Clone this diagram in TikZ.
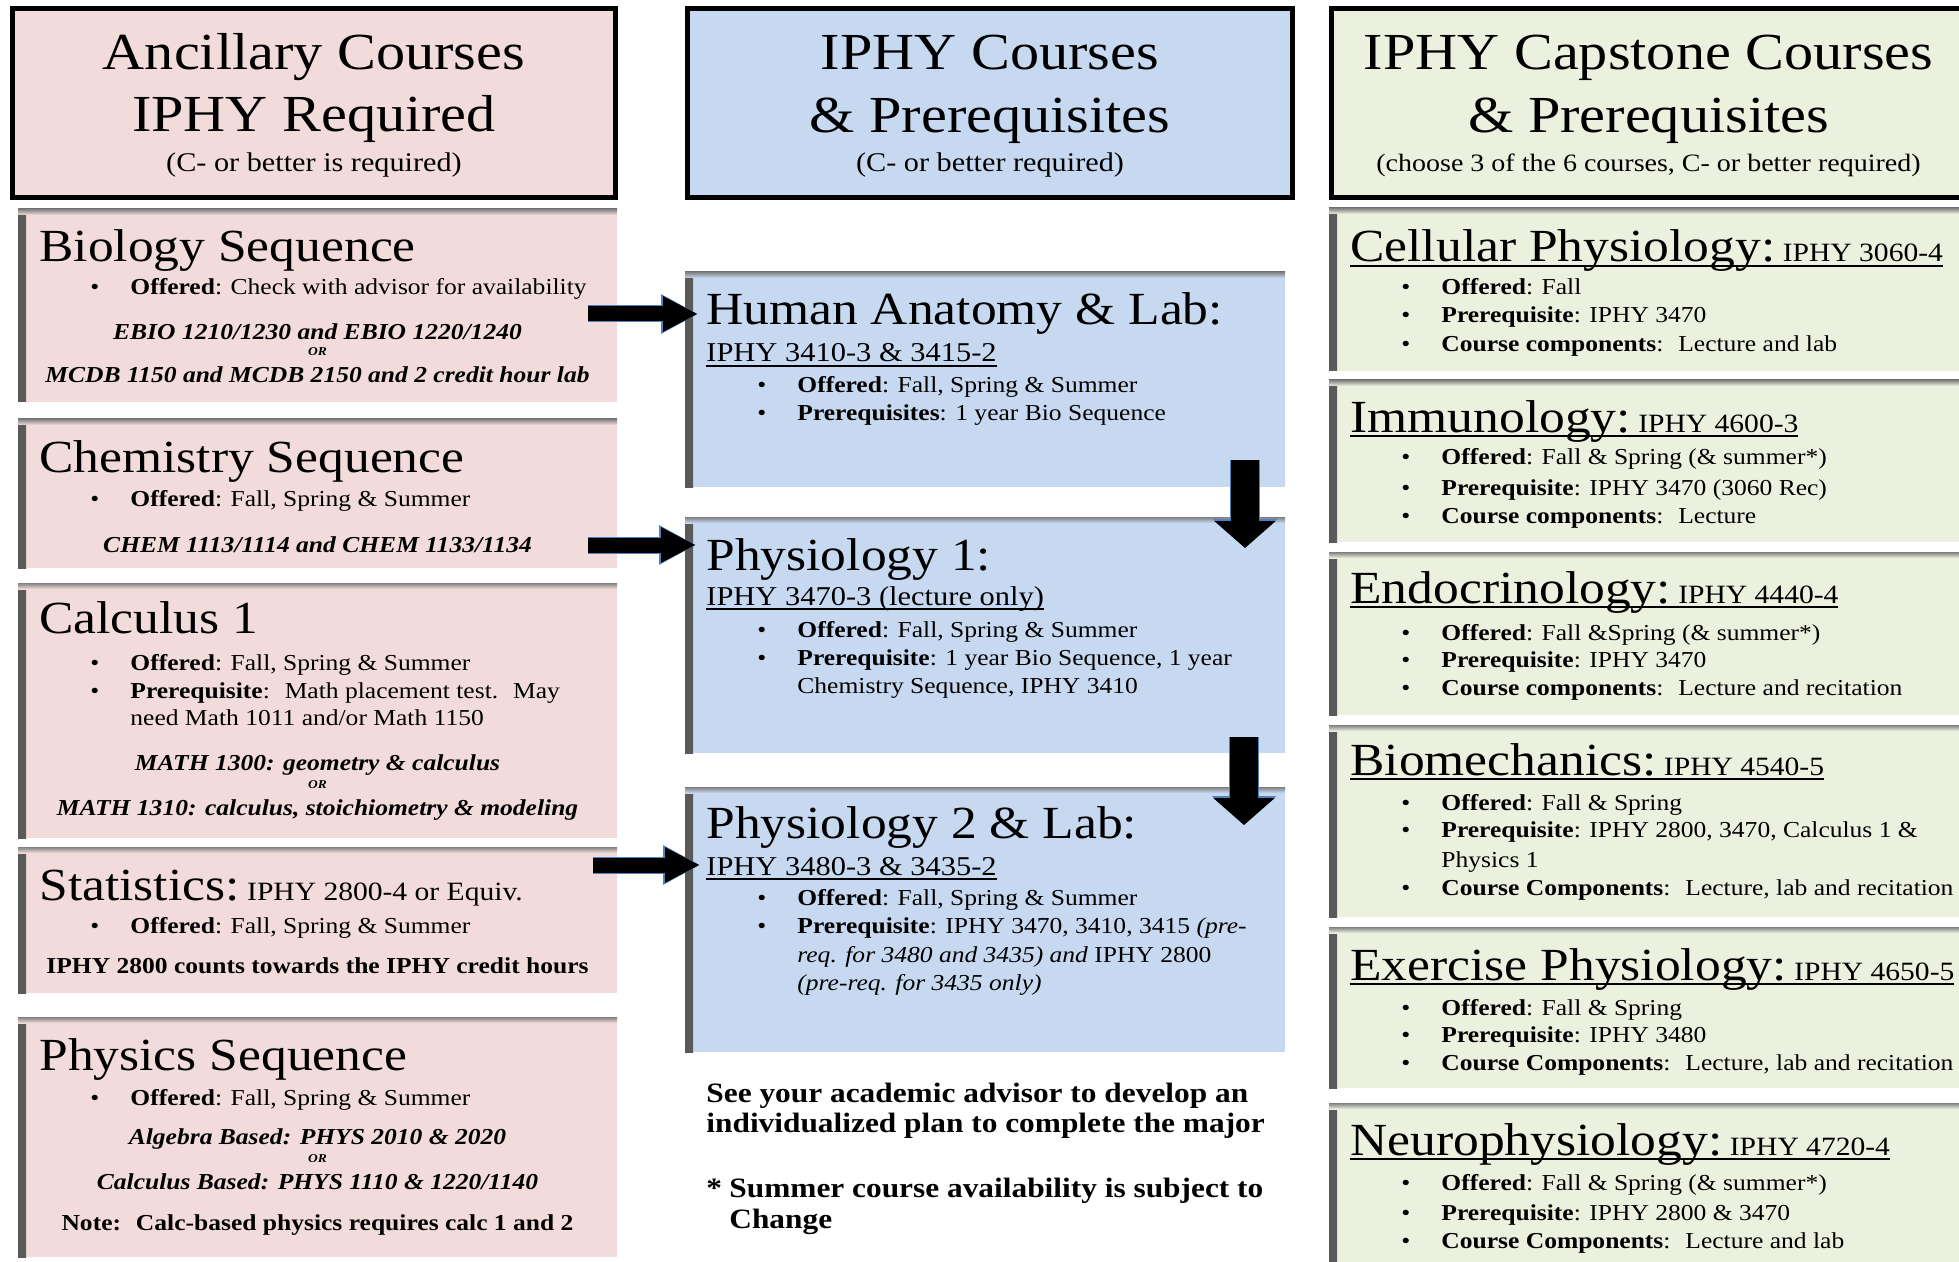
\documentclass[tikz,border=0pt]{standalone}
\usepackage{fontspec}
\setmainfont{Liberation Serif}[FakeStretch=1.12]
\usetikzlibrary{arrows.meta,calc}

\definecolor{ancpink}{RGB}{242,220,219}
\definecolor{iphyblue}{RGB}{198,217,241}
\definecolor{capgreen}{RGB}{235,241,222}
\definecolor{arrowblue}{RGB}{79,129,189}

% underline sitting just under the baseline
\newcommand\crsul[1]{\setbox0\hbox{#1}\rlap{\rule[-2.6pt]{\wd0}{1pt}}\box0}
\newcommand\crscode{\fontsize{13.2}{16}\selectfont}

\tikzset{
  header/.style={draw=black, line width=2.5pt, fill=#1, anchor=north west,
                 inner sep=0pt, outer sep=0pt},
  course/.style={fill=#1, anchor=north west, inner sep=0pt, outer sep=0pt,
                 path picture={
                   \shade[left color=black!65, right color=#1]
                     (path picture bounding box.north west) rectangle
                     ([xshift=4pt]path picture bounding box.south west);
                   \shade[top color=black!50, bottom color=#1]
                     (path picture bounding box.north west) rectangle
                     ([yshift=-3pt]path picture bounding box.north east);}},
  htitle/.style={anchor=base, inner sep=0pt, font=\fontsize{26}{31}\selectfont},
  hsub/.style={anchor=base, inner sep=0pt, font=\fontsize{13.5}{16}\selectfont},
  ttl/.style={anchor=base west, xshift=10.5pt, inner sep=0pt,
              font=\fontsize{23}{28}\selectfont},
  sub/.style={anchor=base west, xshift=10.5pt, inner sep=0pt,
              font=\fontsize{13.6}{16}\selectfont},
  bul/.style={anchor=base west, xshift=36pt, inner sep=0pt,
              font=\fontsize{11.4}{14}\selectfont,
              execute at begin node={\makebox[20pt][l]{\textbullet}}},
  cnt/.style={anchor=base west, xshift=56pt, inner sep=0pt,
              font=\fontsize{11.4}{14}\selectfont},
  ctr/.style={anchor=base, xshift=149.75pt, inner sep=0pt,
              font=\fontsize{11.4}{14}\selectfont\bfseries\itshape},
  orr/.style={anchor=base, xshift=149.75pt, inner sep=0pt,
              font=\fontsize{6}{7}\selectfont\bfseries\itshape},
  note/.style={anchor=base west, inner sep=0pt,
               font=\fontsize{14}{15}\selectfont\bfseries},
  harrow/.style={line width=7.5pt, -{Triangle[length=17.5pt,width=16.5pt]},
                 preaction={draw=arrowblue, line width=8.5pt,
                            -{Triangle[length=18.5pt,width=18.5pt]}}},
  varrow/.style={line width=14pt, -{Triangle[length=13.5pt,width=30pt]},
                 preaction={draw=arrowblue, line width=15pt,
                            -{Triangle[length=14.5pt,width=31.5pt]}}}
}

\begin{document}
\begin{tikzpicture}[x=0.5pt, y=-0.5pt]
\fill[white] (0,0) rectangle (1959,1262);
\useasboundingbox (0,0) rectangle (1959,1262);

% column headers
\node[header=ancpink, minimum width=301.5pt, minimum height=94.5pt] (hanc) at (12.5,8.5) {};
\node[header=iphyblue, minimum width=302.5pt, minimum height=94.5pt] (hiphy) at (687.5,8.5) {};
\node[header=capgreen, minimum width=317pt, minimum height=94.5pt] (hcap) at (1331.5,8.5) {};

\node[htitle] (hanc-1) at ($(hanc.north)+(0,61.5)$) {Ancillary Courses};
\node[htitle] (hanc-2) at ($(hanc.north)+(0,123.5)$) {IPHY Required};
\node[hsub] (hanc-3) at ($(hanc.north)+(0,163.5)$) {(C- or better is required)};
\node[htitle] (hiphy-1) at ($(hiphy.north)+(0,61.5)$) {IPHY Courses};
\node[htitle] (hiphy-2) at ($(hiphy.north)+(0,124.5)$) {\& Prerequisites};
\node[hsub] (hiphy-3) at ($(hiphy.north)+(0,163.5)$) {(C- or better required)};
\node[htitle] (hcap-1) at ($(hcap.north)+(0,61.5)$) {IPHY Capstone Courses};
\node[htitle] (hcap-2) at ($(hcap.north)+(0,124.5)$) {\& Prerequisites};
\node[hsub, font=\fontsize{12.5}{15}\selectfont] (hcap-3) at ($(hcap.north)+(0,163.5)$)
  {(choose 3 of the 6 courses, C- or better required)};

% ancillary boxes
\node[course=ancpink, minimum width=299.5pt, minimum height=96.5pt] (bio) at (18,209) {};
\node[course=ancpink, minimum width=299.5pt, minimum height=74.5pt] (chem) at (18,419) {};
\node[course=ancpink, minimum width=299.5pt, minimum height=127.5pt] (calc) at (18,583) {};
\node[course=ancpink, minimum width=299.5pt, minimum height=73pt] (stat) at (18,847) {};
\node[course=ancpink, minimum width=299.5pt, minimum height=120pt] (phys) at (18,1017) {};

% IPHY boxes
\node[course=iphyblue, minimum width=300pt, minimum height=107.5pt] (anat) at (685,272) {};
\node[course=iphyblue, minimum width=300pt, minimum height=118pt] (phyone) at (685,517) {};
\node[course=iphyblue, minimum width=300pt, minimum height=132.5pt] (phytwo) at (685,787) {};

% capstone boxes
\node[course=capgreen, minimum width=325pt, minimum height=81.5pt] (cell) at (1329,208) {};
\node[course=capgreen, minimum width=325pt, minimum height=81pt] (immu) at (1329,380) {};
\node[course=capgreen, minimum width=325pt, minimum height=81.5pt] (endo) at (1329,552) {};
\node[course=capgreen, minimum width=325pt, minimum height=96pt] (biomech) at (1329,725) {};
\node[course=capgreen, minimum width=325pt, minimum height=80.5pt] (exer) at (1329,927) {};
\node[course=capgreen, minimum width=325pt, minimum height=90pt] (neuro) at (1329,1103) {};

% arrows
\draw[harrow] ($(bio.north east)+(-29,105)$) -- ($(anat.north west)+(13,42)$);
\draw[harrow] ($(chem.north east)+(-29,126)$) -- ($(phyone.north west)+(11,28)$);
\draw[harrow] ($(stat.north east)+(-24,18)$) -- ($(phytwo.north west)+(15,78)$);
\draw[varrow] ($(anat.south west)+(560,-27)$) -- ($(phyone.north west)+(560,31)$);
\draw[varrow] ($(phyone.south west)+(559,-16)$) -- ($(phytwo.north west)+(559,38)$);

% ancillary texts
\foreach \dy/\st/\txt [count=\i] in {
  53/ttl/{Biology Sequence},
  86/bul/{\textbf{Offered}: Check with advisor for availability},
  131/ctr/{EBIO 1210/1230 and EBIO 1220/1240},
  147/orr/{OR},
  174/ctr/{MCDB 1150 and MCDB 2150 and 2 credit hour lab}}
  \node[\st] (bio-\i) at ($(bio.north west)+(0,\dy)$) {\txt};
\foreach \dy/\st/\txt [count=\i] in {
  54/ttl/{Chemistry Sequence},
  87/bul/{\textbf{Offered}: Fall, Spring \& Summer},
  133/ctr/{CHEM 1113/1114 and CHEM 1133/1134}}
  \node[\st] (chem-\i) at ($(chem.north west)+(0,\dy)$) {\txt};
\foreach \dy/\st/\txt [count=\i] in {
  50/ttl/{Calculus 1},
  87/bul/{\textbf{Offered}: Fall, Spring \& Summer},
  115/bul/{\textbf{Prerequisite}:~ Math placement test.~ May},
  142/cnt/{need Math 1011 and/or Math 1150},
  187/ctr/{MATH 1300: geometry \& calculus},
  205/orr/{OR},
  232/ctr/{MATH 1310: calculus, stoichiometry \& modeling}}
  \node[\st] (calc-\i) at ($(calc.north west)+(0,\dy)$) {\txt};
\foreach \dy/\st/\txt [count=\i] in {
  53/ttl/{Statistics:{\crscode\ IPHY 2800-4 or Equiv.}},
  86/bul/{\textbf{Offered}: Fall, Spring \& Summer},
  126/ctr/{\upshape IPHY 2800 counts towards the IPHY credit hours}}
  \node[\st] (stat-\i) at ($(stat.north west)+(0,\dy)$) {\txt};
\foreach \dy/\st/\txt [count=\i] in {
  53/ttl/{Physics Sequence},
  88/bul/{\textbf{Offered}: Fall, Spring \& Summer},
  127/ctr/{Algebra Based: PHYS 2010 \& 2020},
  145/orr/{OR},
  172/ctr/{Calculus Based: PHYS 1110 \& 1220/1140},
  213/ctr/{\upshape Note:~ Calc-based physics requires calc 1 and 2}}
  \node[\st] (phys-\i) at ($(phys.north west)+(0,\dy)$) {\txt};

% IPHY texts
\foreach \dy/\st/\txt [count=\i] in {
  53/ttl/{Human Anatomy \& Lab:},
  90/sub/{\crsul{IPHY 3410-3 \& 3415-2}},
  121/bul/{\textbf{Offered}: Fall, Spring \& Summer},
  149/bul/{\textbf{Prerequisites}: 1 year Bio Sequence}}
  \node[\st] (anat-\i) at ($(anat.north west)+(0,\dy)$) {\txt};
\foreach \dy/\st/\txt [count=\i] in {
  53/ttl/{Physiology 1:},
  88/sub/{\crsul{IPHY 3470-3 (lecture only)}},
  120/bul/{\textbf{Offered}: Fall, Spring \& Summer},
  148/bul/{\textbf{Prerequisite}: 1 year Bio Sequence, 1 year},
  176/cnt/{Chemistry Sequence, IPHY 3410}}
  \node[\st] (phyone-\i) at ($(phyone.north west)+(0,\dy)$) {\txt};
\foreach \dy/\st/\txt [count=\i] in {
  51/ttl/{Physiology 2 \& Lab:},
  88/sub/{\crsul{IPHY 3480-3 \& 3435-2}},
  118/bul/{\textbf{Offered}: Fall, Spring \& Summer},
  146/bul/{\textbf{Prerequisite}: IPHY 3470, 3410, 3415 \textit{(pre-}},
  175/cnt/{\textit{req. for 3480 and 3435) and} IPHY 2800},
  203/cnt/{\textit{(pre-req. for 3435 only)}}}
  \node[\st] (phytwo-\i) at ($(phytwo.north west)+(0,\dy)$) {\txt};

\node[note] (advice-1) at ($(phytwo.south west)+(21,50)$) {See your academic advisor to develop an};
\node[note] (advice-2) at ($(phytwo.south west)+(21,80)$) {individualized plan to complete the major};
\node[note] (summer-1) at ($(phytwo.south west)+(21,145)$)
  {\makebox[11.5pt][l]{*}Summer course availability is subject to};
\node[note] (summer-2) at ($(phytwo.south west)+(44,176)$) {Change};

% capstone texts
\foreach \dy/\st/\txt [count=\i] in {
  54/ttl/{\crsul{Cellular Physiology:{\crscode\ IPHY 3060-4}}},
  87/bul/{\textbf{Offered}: Fall},
  115/bul/{\textbf{Prerequisite}: IPHY 3470},
  144/bul/{\textbf{Course components}:~ Lecture and lab}}
  \node[\st] (cell-\i) at ($(cell.north west)+(0,\dy)$) {\txt};
\foreach \dy/\st/\txt [count=\i] in {
  52/ttl/{\crsul{Immunology:{\crscode\ IPHY 4600-3}}},
  85/bul/{\textbf{Offered}: Fall \& Spring (\& summer*)},
  115/bul/{\textbf{Prerequisite}: IPHY 3470 (3060 Rec)},
  143/bul/{\textbf{Course components}:~ Lecture}}
  \node[\st] (immu-\i) at ($(immu.north west)+(0,\dy)$) {\txt};
\foreach \dy/\st/\txt [count=\i] in {
  51/ttl/{\crsul{Endocrinology:{\crscode\ IPHY 4440-4}}},
  88/bul/{\textbf{Offered}: Fall \&Spring (\& summer*)},
  115/bul/{\textbf{Prerequisite}: IPHY 3470},
  143/bul/{\textbf{Course components}:~ Lecture and recitation}}
  \node[\st] (endo-\i) at ($(endo.north west)+(0,\dy)$) {\txt};
\foreach \dy/\st/\txt [count=\i] in {
  50/ttl/{\crsul{Biomechanics:{\crscode\ IPHY 4540-5}}},
  85/bul/{\textbf{Offered}: Fall \& Spring},
  112/bul/{\textbf{Prerequisite}: IPHY 2800, 3470, Calculus 1 \&},
  142/cnt/{Physics 1},
  170/bul/{\textbf{Course Components}:~ Lecture, lab and recitation}}
  \node[\st] (biomech-\i) at ($(biomech.north west)+(0,\dy)$) {\txt};
\foreach \dy/\st/\txt [count=\i] in {
  53/ttl/{\crsul{Exercise Physiology:{\crscode\ IPHY 4650-5}}},
  88/bul/{\textbf{Offered}: Fall \& Spring},
  115/bul/{\textbf{Prerequisite}: IPHY 3480},
  143/bul/{\textbf{Course Components}:~ Lecture, lab and recitation}}
  \node[\st] (exer-\i) at ($(exer.north west)+(0,\dy)$) {\txt};
\foreach \dy/\st/\txt [count=\i] in {
  52/ttl/{\crsul{Neurophysiology:{\crscode\ IPHY 4720-4}}},
  87/bul/{\textbf{Offered}: Fall \& Spring (\& summer*)},
  117/bul/{\textbf{Prerequisite}: IPHY 2800 \& 3470},
  145/bul/{\textbf{Course Components}:~ Lecture and lab}}
  \node[\st] (neuro-\i) at ($(neuro.north west)+(0,\dy)$) {\txt};
\end{tikzpicture}
\end{document}
